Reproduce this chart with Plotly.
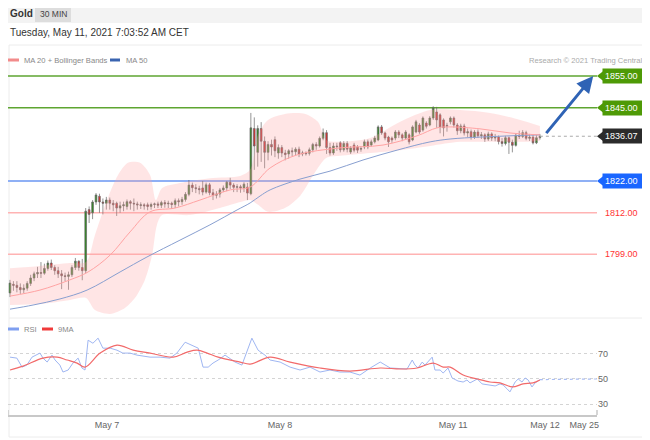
import plotly.graph_objects as go

# ---------------- data ----------------
opens = [1786.8,1789.5,1789.2,1788.5,1787.8,1788.3,1789.8,1791.5,1792.8,1793.2,1793.0,1794.5,1796.2,1794.8,1793.8,1792.8,1792.2,1792.0,1792.5,1794.8,1796.8,1794.8,1793.8,
 1813.0,1812.0,1815.4,1817.2,1815.4,1815.0,1816.0,1815.0,1815.0,1813.5,1814.2,1814.0,1815.5,1815.0,1814.8,1814.3,1814.5,1814.5,1814.0,1814.6,1814.8,1814.4,1815.2,1814.8,1815.0,1814.6,1815.8,1815.5,1816.2,1817.8,1820.7,1819.9,1819.6,1819.8,1818.5,1820.8,1818.3,1817.5,1817.9,1819.2,1819.8,1821.6,1820.7,1820.0,1820.2,1819.8,1820.1,
 1818.0,1838.5,1831.0,1838.5,1834.5,1831.0,1833.5,1835.0,1830.8,1832.5,1830.8,1830.5,1831.5,1831.2,1832.0,1830.5,1830.8,1830.7,1831.8,1833.5,1833.0,1835.4,1837.2,1832.5,1830.8,1833.0,1834.0,1831.8,1833.8,
 1831.1,1833.3,1832.7,1832.0,1832.7,1834.3,1833.3,1834.3,1834.9,1839.0,1837.1,1835.8,1835.5,1835.5,1837.4,1836.5,1835.5,1836.5,1834.9,1837.4,1839.6,1838.0,1840.2,1839.6,1841.8,1843.7,1842.8,1841.2,1839.5,1840.6,
 1841.8,1839.6,1837.8,1839.3,1837.1,1837.5,1835.8,1837.4,1836.2,1836.5,1835.2,1836.8,1835.5,1835.8,1834.4,1833.8,1835.6,1834.2,1833.2,1836.4,1836.0,1837.2,1835.4,1835.8,1834.0,1835.6]
highs = [1790.9,1790.5,1790.5,1789.8,1789.5,1790.5,1792.5,1793.5,1795.0,1796.5,1796.0,1797.0,1797.3,1795.5,1795.0,1794.0,1793.2,1793.5,1795.5,1797.8,1797.0,1797.5,1813.5,
 1814.0,1816.0,1818.2,1818.0,1816.5,1817.0,1816.8,1816.0,1815.5,1815.5,1815.5,1816.2,1816.0,1816.5,1815.5,1815.3,1815.0,1815.2,1815.2,1815.2,1815.5,1815.8,1816.0,1815.8,1815.5,1816.5,1816.5,1817.0,1818.5,1822.3,1821.5,1821.0,1820.5,1822.0,1821.5,1821.4,1819.5,1818.8,1819.8,1820.6,1822.0,1823.0,1821.3,1821.0,1820.8,1821.6,1821.4,
 1843.4,1842.0,1839.5,1840.5,1836.0,1834.5,1835.0,1836.0,1833.5,1833.3,1831.8,1832.0,1832.5,1832.6,1832.8,1831.5,1831.3,1832.5,1834.0,1834.2,1836.0,1838.5,1838.0,1834.0,1834.0,1834.0,1834.5,1834.5,1834.5,
 1833.0,1834.0,1833.3,1833.0,1835.0,1835.0,1835.0,1836.2,1839.5,1839.6,1837.5,1836.2,1836.0,1838.0,1838.0,1837.0,1838.0,1837.0,1839.5,1841.2,1840.2,1842.3,1840.8,1842.4,1845.5,1845.3,1843.3,1841.7,1840.3,1842.3,
 1842.3,1840.2,1840.0,1840.0,1838.5,1838.2,1838.0,1838.2,1837.4,1837.0,1837.5,1837.3,1836.8,1836.3,1835.5,1836.2,1836.0,1835.0,1837.0,1837.8,1838.0,1837.8,1836.8,1836.5,1836.4,1836.8]
lows = [1785.5,1787.5,1787.0,1786.5,1786.8,1787.5,1789.0,1790.5,1791.5,1791.5,1792.5,1793.8,1794.0,1792.5,1791.5,1788.0,1790.5,1787.8,1791.8,1794.0,1793.8,1790.8,1793.0,
 1808.8,1810.0,1814.5,1812.0,1811.5,1813.0,1813.0,1812.5,1811.0,1812.0,1812.5,1813.0,1813.0,1812.5,1813.0,1813.2,1813.0,1812.8,1813.0,1813.5,1813.5,1813.5,1813.6,1813.5,1813.2,1813.5,1814.0,1814.5,1815.5,1817.2,1818.5,1818.2,1817.8,1817.5,1818.0,1817.5,1816.0,1816.5,1816.8,1818.5,1818.8,1819.5,1818.5,1818.5,1818.3,1818.5,1816.0,
 1817.5,1825.5,1826.5,1828.0,1826.0,1828.5,1830.0,1829.5,1829.0,1829.5,1828.5,1829.0,1829.8,1830.0,1829.5,1829.8,1830.0,1830.0,1831.0,1831.8,1832.5,1834.8,1830.5,1830.0,1830.2,1831.5,1831.0,1831.2,1831.0,
 1830.5,1831.0,1830.8,1831.2,1832.0,1832.0,1832.8,1833.8,1834.5,1836.5,1834.8,1832.7,1834.0,1834.8,1835.5,1834.5,1835.0,1833.5,1834.5,1837.0,1836.8,1837.5,1838.5,1839.2,1841.2,1838.7,1837.0,1836.0,1837.5,1839.8,
 1838.8,1836.5,1837.0,1836.3,1835.8,1835.0,1835.2,1835.5,1835.2,1834.3,1834.6,1834.6,1834.5,1833.5,1832.8,1833.2,1830.5,1831.0,1832.8,1835.2,1835.5,1834.8,1834.6,1833.5,1833.6,1835.0]
closes = [1789.9,1789.2,1788.5,1787.8,1788.3,1789.8,1791.5,1792.8,1793.2,1793.0,1794.5,1796.2,1794.8,1793.8,1792.8,1792.2,1792.0,1792.5,1794.8,1796.8,1794.8,1793.8,1812.5,
 1811.5,1815.4,1817.6,1815.4,1815.0,1816.0,1815.0,1814.5,1813.5,1814.2,1814.5,1815.5,1815.0,1814.8,1814.5,1814.5,1814.2,1814.0,1814.6,1814.8,1814.4,1815.2,1814.8,1815.0,1814.6,1815.8,1815.5,1816.2,1817.8,1820.7,1819.9,1819.6,1819.3,1818.5,1820.8,1818.3,1817.5,1817.9,1819.2,1819.8,1821.6,1820.7,1820.0,1820.2,1819.8,1821.0,1818.2,
 1838.7,1833.0,1838.5,1834.5,1831.0,1833.5,1832.7,1831.5,1832.5,1830.8,1830.3,1831.5,1831.2,1832.0,1830.5,1830.8,1830.6,1831.8,1833.5,1833.0,1835.4,1837.2,1832.5,1830.8,1833.0,1832.8,1831.8,1833.8,1832.0,
 1832.4,1831.7,1831.7,1832.2,1834.3,1832.7,1834.3,1835.5,1839.0,1837.1,1835.5,1834.3,1834.9,1837.4,1836.5,1835.5,1837.4,1834.3,1839.0,1840.6,1837.4,1841.8,1839.2,1841.8,1845.0,1841.2,1839.0,1838.7,1839.3,1841.8,
 1839.6,1837.8,1839.3,1837.1,1837.5,1835.8,1837.4,1836.2,1836.5,1835.2,1836.8,1835.5,1835.8,1834.4,1833.8,1835.6,1834.2,1833.2,1836.4,1836.0,1837.2,1835.4,1835.8,1834.0,1835.6,1836.07]
candle_idx = list(range(len(closes)))

ma50_x = [0, 6.7, 14.5, 22.4, 32, 39.8, 49.4, 58.1, 66, 69.8, 72.7, 75.6, 84.3, 93, 102.6, 112.5, 122.1, 127.9, 136.6, 145.3, 154]
ma50_y = [1781.7, 1783.0, 1784.9, 1787.7, 1793.4, 1798.1, 1803.4, 1808.2, 1812.9, 1815.1, 1817.3, 1819.2, 1822.6, 1825.1, 1828.6, 1831.7, 1834.3, 1835.2, 1835.8, 1836.2, 1836.5]

ma20_x = [0, 8.7, 17.4, 22.7, 29.1, 34.9, 40.7, 48, 55.2, 64, 69.8, 75.6, 83.4, 95.9, 108.4, 118.3, 124.1, 127.9, 136.6, 145.3, 154]
ma20_y = [1785.8, 1787.7, 1790.9, 1793.4, 1798.7, 1806.0, 1812.3, 1813.5, 1816.0, 1819.2, 1820.1, 1826.1, 1830.2, 1832.4, 1833.3, 1836.2, 1838.7, 1839.0, 1838.4, 1837.1, 1836.5]

bb_up_x = [0, 8.7, 17.4, 22.1, 24.7, 28.2, 31.4, 34.3, 37.8, 40.7, 42.4, 44.2, 49.4, 58.1, 66.9, 69.8, 72.1, 75, 79.9, 85.8, 89.5, 91.9, 95.9, 104.7, 113.4, 122.1, 130.8, 139.5, 148.3, 154]
bb_up_y = [1794.6, 1795.3, 1796.2, 1796.5, 1805.0, 1816.0, 1823.9, 1827.7, 1827.7, 1823.9, 1816.0, 1819.8, 1821.4, 1822.9, 1823.6, 1825.5, 1836.5, 1841.2, 1843.1, 1843.1, 1840.6, 1834.9, 1834.3, 1835.5, 1840.6, 1844.3, 1844.3, 1843.4, 1841.2, 1839.3]
bb_lo_x = [0, 8.7, 17.4, 22.1, 24.7, 29.1, 33.4, 36.3, 39.2, 41.3, 42.7, 44.2, 52.3, 61, 66.9, 69.8, 72.1, 75, 79.9, 84.3, 88.7, 91.9, 95.9, 104.7, 113.4, 122.1, 130.8, 139.5, 148.3, 154]
bb_lo_y = [1783.0, 1783.3, 1784.6, 1785.2, 1781.4, 1780.2, 1782.1, 1785.2, 1790.9, 1798.7, 1808.2, 1811.3, 1811.3, 1813.5, 1815.4, 1816.0, 1814.5, 1812.3, 1813.5, 1817.3, 1824.8, 1829.2, 1829.9, 1830.8, 1831.7, 1833.0, 1834.3, 1834.3, 1834.3, 1834.6]

rsi_x = [0, 2, 3.5, 4.9, 6.4, 7.8, 8.7, 9.6, 10.8, 12.2, 13.1, 14.5, 15.4, 16.9, 18.3, 19.8, 20.9, 21.8, 22.7, 24.1, 25.6, 27, 29.1, 31.1, 32.8, 34.9, 36.9, 40.7, 43.6, 46.5, 48.5, 50.9, 52.9, 54.7, 56.1, 57.6, 59, 60.5,
         62.5, 65.4, 67.4, 70.3, 72.1, 74.1, 75.6, 78.5, 81.4, 84.3, 87.2, 90.1, 93, 95.9, 98.8, 101.7, 104.7, 107.6, 110.5, 113.4,
         115.4, 116.9, 117.7, 118.6, 119.8, 120.6, 122.7, 123.5, 125, 125.9, 127.3, 128.5, 130.2, 131.7, 132.8, 133.7, 135.8, 137.2, 139, 141, 142.4, 143.3, 144.5, 145.3, 146.8, 147.7, 148.8, 149.7, 150.6, 151.7, 152.6, 154]
rsi_y = [67.3, 66.5, 59.4, 61.0, 67.3, 68.9, 70.5, 66.5, 63.4, 68.9, 65.0, 61.0, 55.5, 57.1, 62.6, 66.5, 58.7, 57.1, 80.7, 78.3, 82.3, 74.4, 74.4, 72.8, 70.5, 70.5, 68.9, 67.3, 67.3, 66.5, 70.5, 79.1, 76.8, 74.4, 59.4, 59.4, 62.6, 65.0,
         68.9, 63.4, 61.0, 82.3, 72.8, 68.9, 65.0, 63.4, 59.4, 57.1, 59.4, 55.5, 57.1, 55.5, 55.5, 53.1, 58.7, 63.4, 58.7, 57.9,
         57.9, 65.0, 61.0, 58.7, 63.4, 61.0, 67.3, 57.1, 57.1, 54.7, 58.7, 50.8, 48.4, 47.6, 49.2, 46.9, 50.0, 46.1, 45.3, 44.5, 46.1, 45.3, 42.1, 39.8, 47.6, 50.0, 47.6, 50.8, 49.2, 43.7, 46.9, 49.5]
rsi_ma_x = [0, 3.8, 9.6, 13.7, 16.6, 19.5, 21.8, 26.2, 31.1, 35.8, 40.7, 47.4, 51.5, 54.4, 57.3, 60.5, 66.9, 69.8, 75.6, 81.4, 90.1, 98.8, 107.6, 113.4, 118.3, 123, 125.9, 127.9, 131.7, 135.8, 139.5, 142.4, 146, 149.1, 152, 154]
rsi_ma_y = [57.1, 60.2, 66.5, 67.3, 65.0, 62.6, 59.4, 70.5, 76.8, 72.8, 70.5, 67.3, 71.3, 72.8, 70.5, 67.3, 63.4, 61.8, 67.3, 63.4, 58.7, 56.3, 58.7, 57.9, 58.7, 62.6, 59.4, 59.4, 53.1, 50.0, 47.6, 46.9, 43.7, 46.1, 46.9, 49.2]

levels = [1855.00, 1845.00, 1822.00, 1812.00, 1799.00]
level_types = ["resistance", "resistance", "support", "minor", "minor"]
last_price = 1836.07
target_price = 1855.00
target_idx = 169.5
rsi_levels = [30, 50, 70]

tick_pos = [28.2, 78.5, 128.8, 155.5, 166.9]
tick_text = ["May 7", "May 8", "May 11", "May 12", "May 25"]

# ---------------- geometry helpers (page pixel -> paper) ----------------
OFF = 8                      # page body margin offset of the figure
W, H = 642, 432
ML, MR, MT, MB = 0, 53, 34, 25
PW, PH = W - ML - MR, H - MT - MB
def px_x(px):
    return (px - OFF - ML) / PW
def px_y(py):
    return (H - MB - (py - OFF)) / PH

FONT = "Liberation Sans, Arial, sans-serif"
x_range = [-0.58, 170.6]

fig = go.Figure()

# Bollinger band fill
fig.add_trace(go.Scatter(x=bb_lo_x, y=bb_lo_y, mode="lines", line=dict(width=0, shape="spline", smoothing=0.8),
                         hoverinfo="skip", showlegend=False))
fig.add_trace(go.Scatter(x=bb_up_x, y=bb_up_y, mode="lines", line=dict(width=0, shape="spline", smoothing=0.8),
                         fill="tonexty", fillcolor="rgba(255,160,160,0.28)", hoverinfo="skip", showlegend=False))
# MA50, MA20
fig.add_trace(go.Scatter(x=ma50_x, y=ma50_y, mode="lines", line=dict(color="#889fd0", width=1, shape="spline"),
                         showlegend=False))
fig.add_trace(go.Scatter(x=ma20_x, y=ma20_y, mode="lines", line=dict(color="#ffa3a3", width=1, shape="spline"),
                         showlegend=False))
# candles
fig.add_trace(go.Candlestick(x=candle_idx, open=opens, high=highs, low=lows, close=closes,
                             increasing=dict(line=dict(color="#666666", width=0.7), fillcolor="#2e8b1e"),
                             decreasing=dict(line=dict(color="#666666", width=0.7), fillcolor="#e02b2b"),
                             whiskerwidth=0, showlegend=False))

# RSI panel
fig.add_trace(go.Scatter(x=rsi_x, y=rsi_y, mode="lines", line=dict(color="#9fb6f2", width=1),
                         xaxis="x", yaxis="y2", showlegend=False))
fig.add_trace(go.Scatter(x=rsi_ma_x, y=rsi_ma_y, mode="lines", line=dict(color="#f26a6a", width=1.2, shape="spline"),
                         xaxis="x", yaxis="y2", showlegend=False))

shapes = []
annotations = []

# header bar
shapes.append(dict(type="rect", xref="paper", yref="paper", x0=px_x(OFF), x1=px_x(W + OFF), y0=px_y(23), y1=px_y(OFF),
                   fillcolor="#f3f3f3", line=dict(width=0), layer="below"))
shapes.append(dict(type="rect", xref="paper", yref="paper", x0=px_x(35), x1=px_x(71), y0=px_y(22), y1=px_y(OFF),
                   fillcolor="#dddddd", line=dict(width=0), layer="below"))
# panel frame
shapes.append(dict(type="rect", xref="paper", yref="paper", x0=px_x(OFF + 1), x1=px_x(647), y0=px_y(437), y1=px_y(45),
                   fillcolor="rgba(0,0,0,0)", line=dict(color="#ececec", width=1), layer="below"))
shapes.append(dict(type="line", xref="paper", yref="paper", x0=px_x(OFF + 1), x1=px_x(647), y0=px_y(318), y1=px_y(318),
                   line=dict(color="#ececec", width=1), layer="below"))
# x-axis end ticks
for tx in (0, 1):
    shapes.append(dict(type="line", xref="paper", yref="paper", x0=tx, x1=tx, y0=0, y1=px_y(410),
                       line=dict(color="#c8c8c8", width=1.5)))

# level lines and labels
style = {"resistance": ("#5ea531", 1.5, "#4e9a06", "white"),
         "support": ("#8fb0f5", 2, "#1a66ff", "white"),
         "minor": ("#ffb3b3", 1.5, None, "#ff3333")}
for lv, kind in zip(levels, level_types):
    lc, lw, bg, fc = style[kind]
    shapes.append(dict(type="line", xref="paper", yref="y", x0=0, x1=1, y0=lv, y1=lv,
                       line=dict(color=lc, width=lw), layer="below"))
    if bg:
        shapes.append(dict(type="path", xref="paper", yref="y",
                           path=f"M {px_x(597)},{lv} L {px_x(603)},{lv+1.5} L {px_x(603)},{lv-1.5} Z",
                           fillcolor=bg, line=dict(width=0)))
    annotations.append(dict(x=px_x(602), y=lv, xref="paper", yref="y", xanchor="left", yanchor="middle",
                            text=f"{lv:.2f}", showarrow=False, font=dict(family=FONT, size=9, color=fc),
                            bgcolor=bg if bg else "rgba(0,0,0,0)", borderpad=2, width=42, align="left"))

# last price
shapes.append(dict(type="line", xref="x", yref="y", x0=candle_idx[-1], x1=x_range[1], y0=last_price, y1=last_price,
                   line=dict(color="#aaaaaa", width=1, dash="dot")))
shapes.append(dict(type="path", xref="paper", yref="y",
                   path=f"M {px_x(597)},{last_price} L {px_x(603)},{last_price+1.5} L {px_x(603)},{last_price-1.5} Z",
                   fillcolor="#2b2b2b", line=dict(width=0)))
annotations.append(dict(x=px_x(602), y=last_price, xref="paper", yref="y", xanchor="left", yanchor="middle",
                        text=f"{last_price:.2f}", showarrow=False, font=dict(family=FONT, size=9, color="white"),
                        bgcolor="#2b2b2b", borderpad=2, width=42, align="left"))

# forecast arrow
annotations.append(dict(x=target_idx, y=target_price, xref="x", yref="y", ax=candle_idx[-1] + 1.5, ay=last_price + 0.5,
                        axref="x", ayref="y", text="", showarrow=True, arrowhead=2, arrowsize=1.1,
                        arrowwidth=3, arrowcolor="#2f63b5"))

# RSI dotted extension
shapes.append(dict(type="line", xref="x", yref="y2", x0=rsi_x[-1], x1=x_range[1], y0=rsi_y[-1], y1=50,
                   line=dict(color="#a9bdf2", width=1.2, dash="dot")))

# header text
annotations += [
    dict(x=px_x(8), y=px_y(14), xref="paper", yref="paper", xanchor="left", yanchor="middle", showarrow=False,
         text="<b>Gold</b>", font=dict(family=FONT, size=10, color="#333333")),
    dict(x=px_x(53), y=px_y(14), xref="paper", yref="paper", xanchor="center", yanchor="middle", showarrow=False,
         text="30 MIN", font=dict(family=FONT, size=8.5, color="#444444")),
    dict(x=px_x(8), y=px_y(33), xref="paper", yref="paper", xanchor="left", yanchor="middle", showarrow=False,
         text="Tuesday, May 11, 2021 7:03:52 AM CET", font=dict(family=FONT, size=10, color="#333333")),
    dict(x=px_x(22), y=px_y(60), xref="paper", yref="paper", xanchor="left", yanchor="middle", showarrow=False,
         text="MA 20 + Bollinger Bands", font=dict(family=FONT, size=7.6, color="#888888")),
    dict(x=px_x(124), y=px_y(60), xref="paper", yref="paper", xanchor="left", yanchor="middle", showarrow=False,
         text="MA 50", font=dict(family=FONT, size=7.6, color="#888888")),
    dict(x=px_x(645), y=px_y(60), xref="paper", yref="paper", xanchor="right", yanchor="middle", showarrow=False,
         text="Research © 2021 Trading Central", font=dict(family=FONT, size=7.6, color="#aaaaaa")),
    dict(x=px_x(22), y=px_y(329), xref="paper", yref="paper", xanchor="left", yanchor="middle", showarrow=False,
         text="RSI", font=dict(family=FONT, size=7.6, color="#888888")),
    dict(x=px_x(56), y=px_y(329), xref="paper", yref="paper", xanchor="left", yanchor="middle", showarrow=False,
         text="9MA", font=dict(family=FONT, size=7.6, color="#888888")),
]
# legend swatches
for x0, x1, yy, col in [(8, 19, 60, "#f28b8b"), (110, 120, 60, "#3a64b0"), (8, 19, 329, "#7f9ff0"), (42, 53, 329, "#f03a3a")]:
    shapes.append(dict(type="rect", xref="paper", yref="paper", x0=px_x(x0), x1=px_x(x1), y0=px_y(yy + 1.5), y1=px_y(yy - 1.5),
                       fillcolor=col, line=dict(width=0)))

fig.update_layout(
    width=W, height=H, margin=dict(l=ML, r=MR, t=MT, b=MB),
    paper_bgcolor="white", plot_bgcolor="white",
    font=dict(family=FONT, size=9, color="#666666"),
    showlegend=False,
    xaxis=dict(range=x_range, anchor="y2", tickvals=tick_pos, ticktext=tick_text, showgrid=False, zeroline=False,
               showline=True, linecolor="#c8c8c8", linewidth=2, ticks="", tickfont=dict(size=9, color="#666666"),
               rangeslider=dict(visible=False), fixedrange=True),
    yaxis=dict(domain=[px_y(316), 1], range=[1779.55, 1865.7], visible=False, showgrid=False),
    yaxis2=dict(domain=[0, px_y(322)], range=[21.5, 95.1], side="right", tickvals=rsi_levels,
                showgrid=True, gridcolor="#d4d4d4", griddash="dot", zeroline=False, ticks="",
                tickfont=dict(size=9, color="#666666"), showline=False),
    shapes=shapes, annotations=annotations,
)

fig.write_html("out.html")
